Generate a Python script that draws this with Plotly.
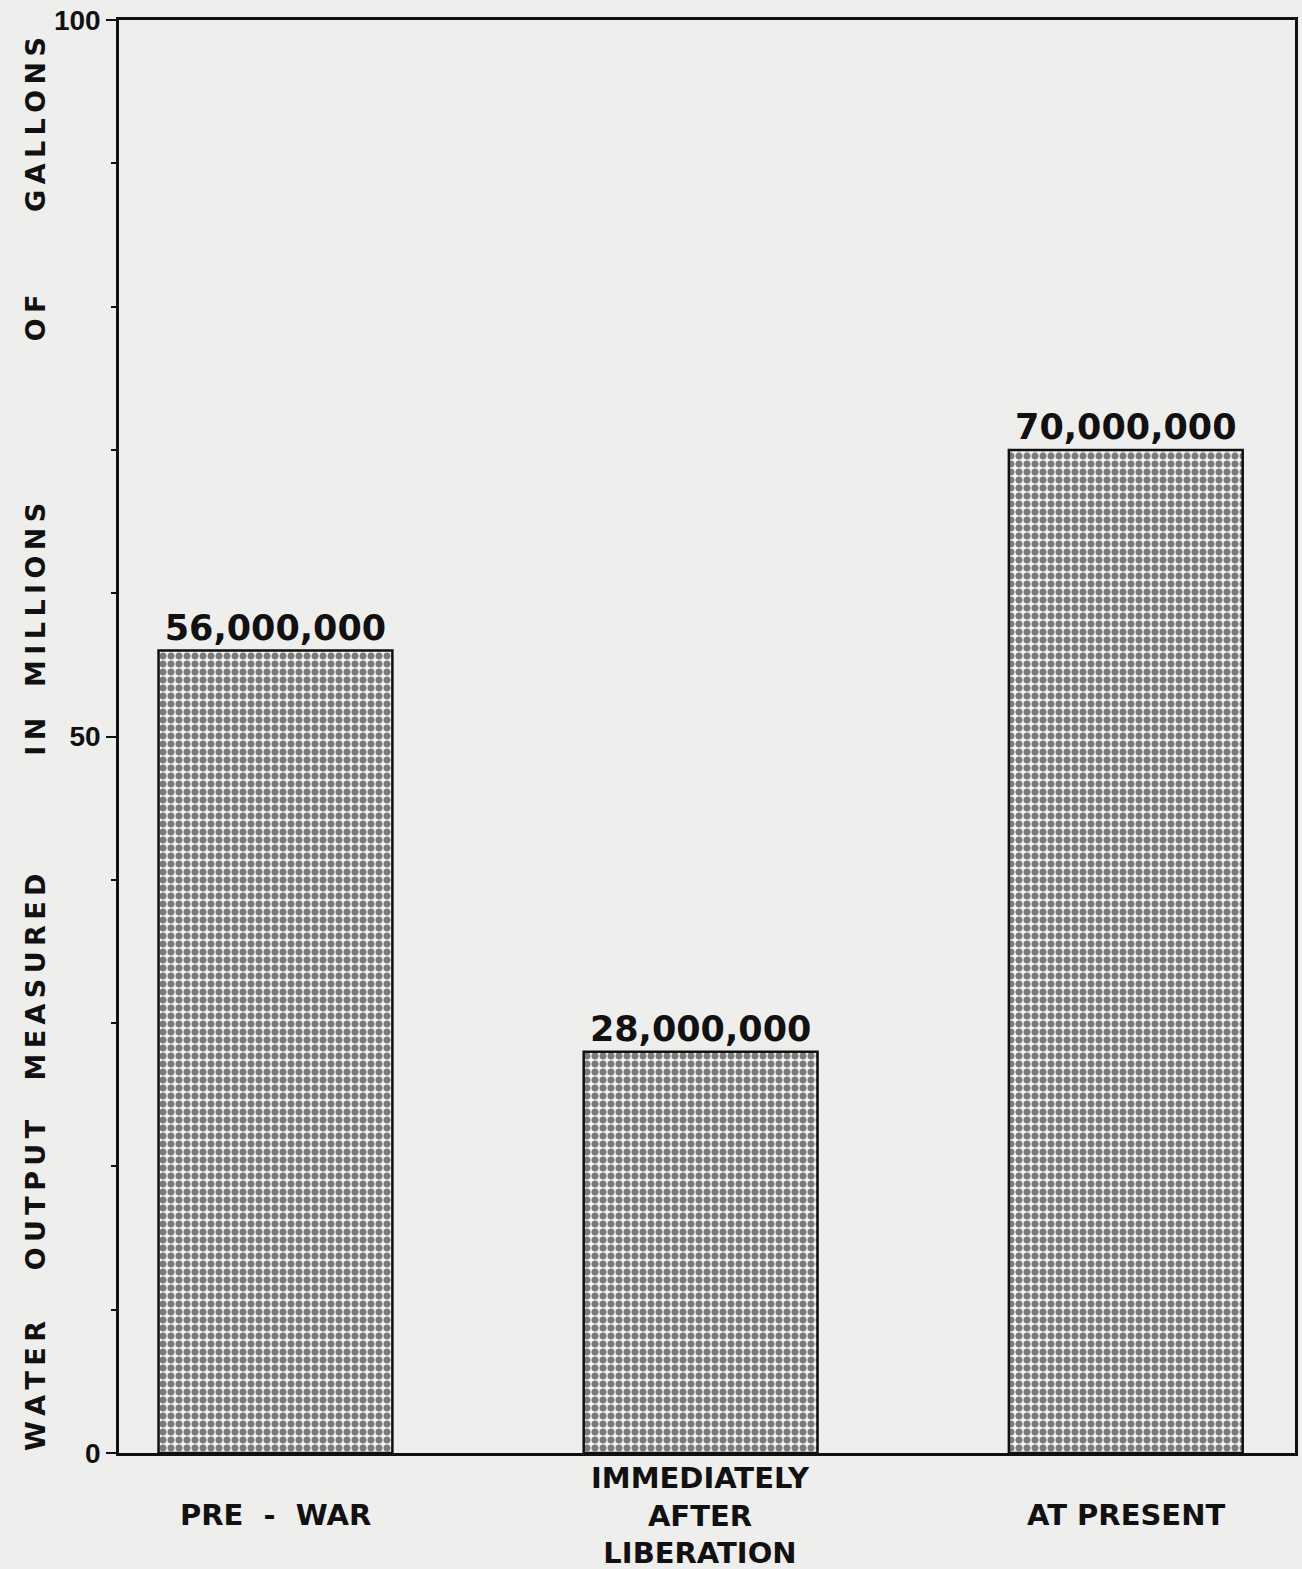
import plotly.graph_objects as go

# ── Data ───────────────────────────────────────────────────────────────────────
categories = ["PRE - WAR", "IMMEDIATELY<br>AFTER<br>LIBERATION", "AT PRESENT"]
output_millions = [56, 28, 70]
y_ticks = [0, 50, 100]
y_title_words = ["WATER", "OUTPUT", "MEASURED", "IN", "MILLIONS", "OF", "GALLONS"]
y_title_pos = [0.047, 0.180, 0.332, 0.500, 0.599, 0.792, 0.927]  # paper y of each word

PAPER = "#eeeeec"
INK = "#111111"
THIN = "\u2009"

value_text = [f"{v * 1_000_000:,.0f}" for v in output_millions]

fig = go.Figure(
    go.Bar(
        x=categories,
        y=output_millions,
        width=0.55,
        text=value_text,
        textposition="outside",
        constraintext="none",
        cliponaxis=False,
        textfont=dict(family="DejaVu Sans", size=35, color=INK, weight="bold"),
        marker=dict(
            color="white",
            line=dict(color=INK, width=2.5),
            pattern=dict(shape=".", size=8, solidity=0.6, fgcolor="#000000", bgcolor="#f6f6f4"),
        ),
        hoverinfo="skip",
    )
)

# spaced-out, rotated y-axis caption, one word at a time
for word, yp in zip(y_title_words, y_title_pos):
    fig.add_annotation(
        text=THIN.join(word), textangle=-90,
        xref="paper", yref="paper", x=-0.0712, y=yp,
        xanchor="center", yanchor="middle", showarrow=False,
        font=dict(family="DejaVu Sans", size=27, color=INK, weight="bold"),
    )

# category labels, centred vertically under the bars
for cat in categories:
    fig.add_annotation(
        text=cat.replace(" - ", "\u00a0\u00a0-\u00a0\u00a0"),
        xref="x", yref="paper", x=cat, y=-0.0435,
        xanchor="center", yanchor="middle", showarrow=False,
        font=dict(family="DejaVu Sans", size=29, color=INK, weight="bold"),
    )

fig.update_layout(
    width=1302, height=1569,
    paper_bgcolor=PAPER, plot_bgcolor=PAPER,
    margin=dict(l=119, r=4, t=20, b=116),
    showlegend=False,
)
fig.update_xaxes(
    range=[-0.368, 2.398],
    showticklabels=False, ticks="",
    showline=True, linecolor=INK, linewidth=2.5, mirror=True,
    showgrid=False, zeroline=False,
)
fig.update_yaxes(
    range=[0, 100],
    tickvals=y_ticks, ticktext=["0", "50", "100"],
    ticks="outside", ticklen=10, tickwidth=2, tickcolor=INK,
    minor=dict(dtick=10, ticks="outside", ticklen=5, tickwidth=2, tickcolor=INK),
    tickfont=dict(family="Liberation Sans", size=28, color=INK, weight="bold"),
    ticklabelstandoff=0,
    showline=True, linecolor=INK, linewidth=2.5, mirror=True,
    showgrid=False, zeroline=False,
)

# drop the browser's default body margin so the figure sits at the page origin
fig.write_html(
    "out.html",
    config={"displayModeBar": False},
    post_script="document.body.style.margin='0';document.body.style.background='#eeeeec';",
)
